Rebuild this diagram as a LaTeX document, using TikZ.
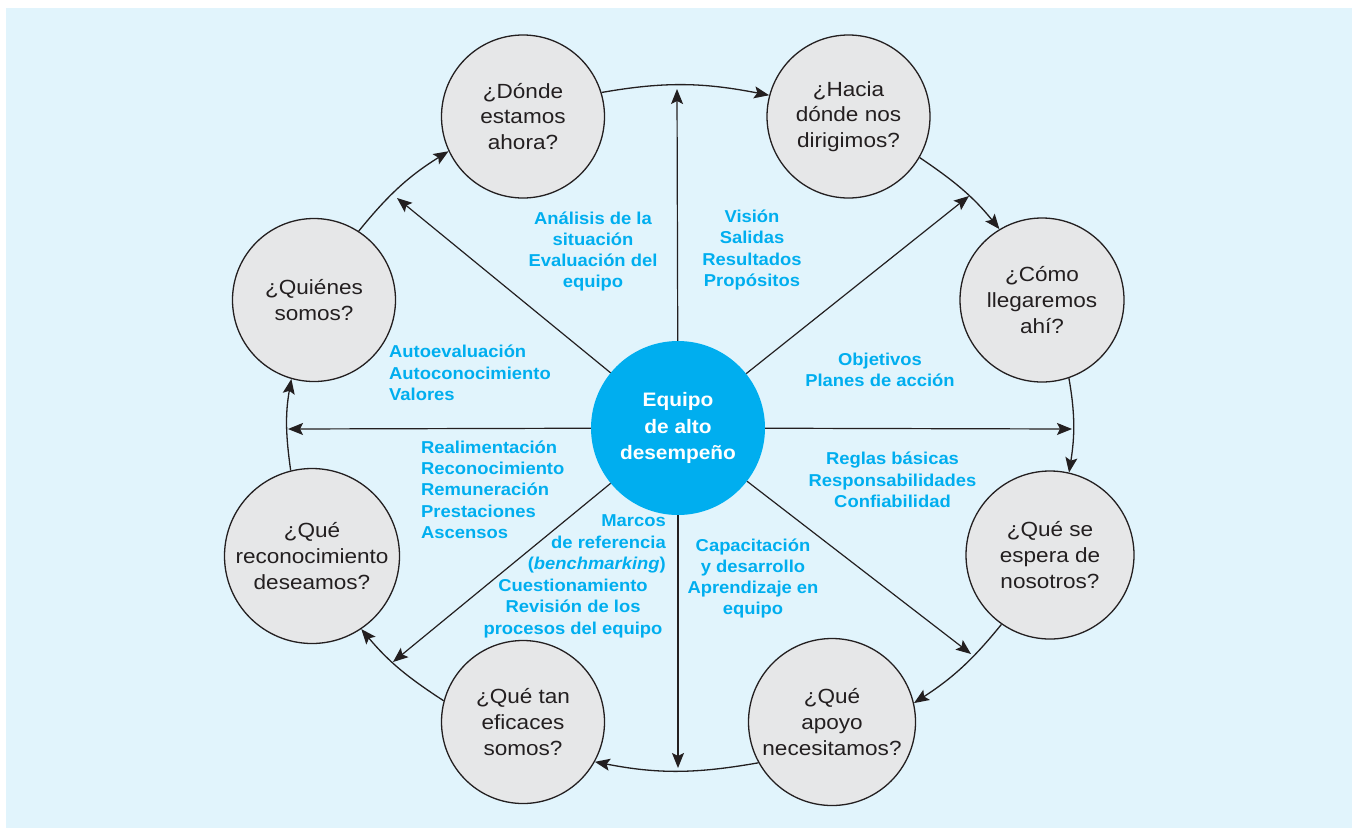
\documentclass[tikz,border=0pt]{standalone}
\usepackage{fontspec}
\setmainfont{Liberation Sans}
\newfontfamily\circfont[FakeStretch=1.1]{Liberation Sans}
\newfontfamily\labfont[FakeStretch=1.07]{Liberation Sans}
\usetikzlibrary{arrows.meta}
\definecolor{bgblue}{HTML}{E1F4FC}
\definecolor{cyanA}{HTML}{00AEEF}
\definecolor{circfill}{HTML}{E6E7E8}
\definecolor{ink}{HTML}{231F20}
\begin{document}
\begin{tikzpicture}[x=1pt,y=1pt,
  qcircle/.style={circle, draw=ink, line width=1.3pt, fill=circfill, inner sep=0pt,
    minimum size=163pt, align=center, text=ink,
    font=\circfont\fontsize{20.5}{25.7}\selectfont},
  hubnode/.style={circle, fill=cyanA, inner sep=0pt, minimum size=174pt, align=center,
    text=white, font=\labfont\bfseries\fontsize{19.5}{26.5}\selectfont},
  lab/.style={text=cyanA, font=\labfont\bfseries\fontsize{17.2}{21.3}\selectfont, inner sep=0pt},
  spoke/.style={draw=ink, line width=1.2pt, -{Stealth[length=15pt,width=12pt,inset=3pt]}},
  ring/.style={draw=ink, line width=1.3pt, -{Stealth[length=15pt,width=12pt,inset=3pt]}},
]
\useasboundingbox (0,0) rectangle (1352,-828);
\fill[white] (0,0) rectangle (1352,-828);
\fill[bgblue] (6,-8) rectangle (1352,-828);

% question circles
\node[qcircle] (donde) at (523,-116.5) {¿Dónde\\estamos\\ahora?};
\node[qcircle] (hacia) at (848.5,-116.5) {¿Hacia\\dónde nos\\dirigimos?};
\node[qcircle, minimum size=164pt] (como) at (1042,-300) {¿Cómo\\llegaremos\\ahí?};
\node[qcircle, minimum size=168pt] (espera) at (1050,-555) {¿Qué se\\espera de\\nosotros?};
\node[qcircle, minimum size=167pt] (apoyo) at (832,-722) {¿Qué\\apoyo\\necesitamos?};
\node[qcircle] (eficaces) at (523,-722) {¿Qué tan\\eficaces\\somos?};
\node[qcircle, minimum size=175pt] (recon) at (312,-556) {¿Qué\\reconocimiento\\deseamos?};
\node[qcircle] (quienes) at (314,-300) {¿Quiénes\\somos?};

% hub
\node[hubnode] (hub) at (678,-428) {Equipo\\de alto\\desempeño};

% spoke tips on the ring
\coordinate (tU) at (677,-89);
\coordinate (tUR) at (969,-196);
\coordinate (tR) at (1072,-429);
\coordinate (tDR) at (971,-654);
\coordinate (tD) at (678,-768);
\coordinate (tDL) at (393,-662);
\coordinate (tL) at (288,-429);
\coordinate (tUL) at (397,-198);

\foreach \t in {tU,tUR,tR,tDR,tD,tDL,tL,tUL}{\draw[spoke] (hub) -- (\t);}

% ring arcs (clockwise)
\draw[ring] (donde.17) to[out=10,in=169] (hacia.165);
\draw[ring] (hacia.330) to[out=326,in=129] (como.121);
\draw[ring] (como.289) to[out=280,in=81] (espera.77);
\draw[ring] (espera.235) to[out=231,in=33] (apoyo.13);
\draw[ring] (apoyo.209) to[out=190,in=349] (eficaces.331);
\draw[ring] (eficaces.165) to[out=147,in=310] (recon.304);
\draw[ring] (recon.104) to[out=98,in=260] (quienes.254);
\draw[ring] (quienes.57) to[out=51,in=212] (donde.205);

% labels
\node[lab, align=center] (l1) at (593,-251.5) {Análisis de la\\situación\\Evaluación del\\equipo};
\node[lab, align=center] (l2) at (752,-250) {Visión\\Salidas\\Resultados\\Propósitos};
\node[lab, align=left, anchor=west] (l3) at (389,-373) {Autoevaluación\\Autoconocimiento\\Valores};
\node[lab, align=center] (l4) at (880,-369.5) {Objetivos\\Planes de acción};
\node[lab, align=left, anchor=west] (l5) at (421,-489.5) {Realimentación\\Reconocimiento\\Remuneración\\Prestaciones\\Ascensos};
\node[lab, align=center] (l6) at (892.5,-480) {Reglas básicas\\Responsabilidades\\Confiabilidad};
\node[lab, align=right, anchor=east] (l7) at (666,-544) {Marcos\\de referencia\\(\textit{benchmarking})};
\node[lab, align=center] (l8) at (573,-608.3) {Cuestionamiento\\Revisión de los\\procesos del equipo};
\node[lab, align=center] (l9) at (753,-578.5) {Capacitación\\y desarrollo\\Aprendizaje en\\equipo};
\end{tikzpicture}
\end{document}
